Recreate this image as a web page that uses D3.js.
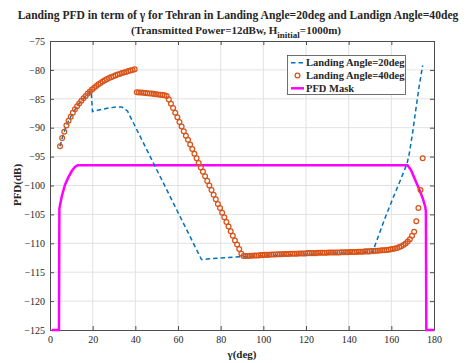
<!DOCTYPE html>
<html>
<head>
<meta charset="utf-8">
<script src="https://cdn.jsdelivr.net/npm/d3@7"></script>
<style>
  body { margin: 0; background: #fff; }
  text { font-family: "Liberation Serif", serif; }
</style>
</head>
<body>
<svg id="chart" width="473" height="363"></svg>
<script>
// ticks
let xTicks = [0, 20, 40, 60, 80, 100, 120, 140, 160, 180]
let yTicks = [-75, -80, -85, -90, -95, -100, -105, -110, -115, -120, -125]

// Landing Angle=40deg, one marker per degree starting at 4.7 deg
let gamma40Start = 4.7
let pfd40 = [
  -93.2, -91.8, -90.7, -89.6, -88.8, -88.1, -87.4, -86.8, -86.3, -85.8,
  -85.35, -84.9, -84.5, -84.1, -83.75, -83.4, -83.1, -82.8, -82.5, -82.25,
  -82.0, -81.8, -81.6, -81.4, -81.25, -81.1, -80.95, -80.8, -80.7, -80.55,
  -80.45, -80.35, -80.2, -80.1, -80.0, -79.9, -83.85, -83.9, -83.9, -83.95,
  -84.0, -84.05, -84.1, -84.1, -84.15, -84.2, -84.25, -84.3, -84.35, -84.4,
  -84.5, -85.1, -85.85, -86.6, -87.4, -88.2, -89.0, -89.8, -90.6, -91.4,
  -92.1, -92.9, -93.7, -94.5, -95.3, -96.1, -96.9, -97.6, -98.4, -99.2,
  -100.0, -100.8, -101.6, -102.4, -103.2, -103.9, -104.7, -105.5, -106.3, -107.1,
  -107.9, -108.7, -109.5, -110.2, -111.0, -111.8, -112.2, -112.2, -112.2, -112.15,
  -112.15, -112.1, -112.1, -112.1, -112.05, -112.05, -112.0, -112.0, -112.0, -111.95,
  -111.95, -111.95, -111.9, -111.9, -111.9, -111.85, -111.85, -111.85, -111.8, -111.8,
  -111.8, -111.8, -111.75, -111.75, -111.75, -111.75, -111.7, -111.7, -111.7, -111.7,
  -111.7, -111.65, -111.65, -111.65, -111.65, -111.65, -111.6, -111.6, -111.6, -111.6,
  -111.6, -111.6, -111.55, -111.55, -111.55, -111.55, -111.5, -111.5, -111.5, -111.5,
  -111.45, -111.45, -111.45, -111.4, -111.4, -111.4, -111.35, -111.35, -111.3, -111.3,
  -111.25, -111.2, -111.2, -111.15, -111.1, -111.05, -111.0, -110.9, -110.8, -110.65,
  -110.5, -110.3, -110.05, -109.7, -109.3, -108.7, -108.0, -106.2, -103.9, -100.8,
  -95.3
]

// Landing Angle=20deg (dashed line)
let gamma20 = [4.7, 5.7, 6.7, 7.7, 8.7, 10, 12, 14, 16, 18, 19.3, 19.9, 23.5, 27.4, 31.3, 33.7, 36.3,
  71, 89.3, 120, 151.2, 154, 157.4, 161.3, 164, 166, 167.5, 168.5, 170, 171.5, 173.1, 174.7]
let pfd20 = [-93.2, -91.8, -90.7, -89.6, -88.8, -87.9, -86.7, -85.6, -84.8, -84.1, -83.6, -87.2, -86.9, -86.6, -86.4, -86.4, -87.1,
  -112.8, -112.3, -111.9, -111.5, -108.7, -105.3, -101.7, -99.3, -97.5, -96.0, -94.3, -90.8, -86.8, -82.7, -79.2]

// PFD mask
let gammaMask = [0.8, 4.2, 4.4, 5.5, 7, 8.6, 10.2, 11.7, 13, 167.6, 169.2, 171.5, 173.1, 174.7, 175.9, 176.2, 176.4, 180]
let pfdMask = [-125, -125, -104, -101.9, -99.9, -98.6, -97.5, -96.8, -96.5, -96.5, -97.3, -99.3, -100.7, -102.2, -103.7, -104.5, -125, -125]

let legendLabels = ["Landing Angle=20deg", "Landing Angle=40deg", "PFD Mask"]

let blue = "#0072BD", orange = "#D95319", magenta = "#FF00FF"
let axisColor = "#4d4d4d", textColor = "#262626"

let svg = d3.select("#chart")
let plotLeft = 50, plotRight = 434, plotTop = 41, plotBottom = 330

let x = d3.scaleLinear().domain([0, 180]).range([plotLeft, plotRight])
let y = d3.scaleLinear().domain([-125, -75]).range([plotBottom, plotTop])

// grid
let grid = svg.append("g").attr("stroke", "#e2e2e2").attr("stroke-width", 1)
grid.selectAll(".gx").data(xTicks.slice(1, -1)).enter().append("line")
  .attr("x1", d => x(d)).attr("x2", d => x(d)).attr("y1", plotTop).attr("y2", plotBottom)
grid.selectAll(".gy").data(yTicks.slice(1, -1)).enter().append("line")
  .attr("y1", d => y(d)).attr("y2", d => y(d)).attr("x1", plotLeft).attr("x2", plotRight)

// axes
function styleAxis(g, showText) {
  g.select(".domain").attr("stroke", axisColor)
  g.selectAll(".tick line").attr("stroke", axisColor)
  g.selectAll(".tick text").attr("fill", textColor).attr("font-size", 10)
    .style("display", showText ? null : "none")
}

svg.append("g").attr("transform", `translate(0,${plotBottom})`)
  .call(d3.axisBottom(x).tickValues(xTicks).tickSizeInner(-4).tickSizeOuter(0).tickPadding(6))
  .call(g => styleAxis(g, true))
svg.append("g").attr("transform", `translate(0,${plotTop})`)
  .call(d3.axisTop(x).tickValues(xTicks).tickSizeInner(-4).tickSizeOuter(0))
  .call(g => styleAxis(g, false))
svg.append("g").attr("transform", `translate(${plotLeft},0)`)
  .call(d3.axisLeft(y).tickValues(yTicks).tickSizeInner(-4).tickSizeOuter(0).tickPadding(5))
  .call(g => styleAxis(g, true))
svg.append("g").attr("transform", `translate(${plotRight},0)`)
  .call(d3.axisRight(y).tickValues(yTicks).tickSizeInner(-4).tickSizeOuter(0))
  .call(g => styleAxis(g, false))

// data
let line = d3.line().x(d => x(d[0])).y(d => y(d[1]))

svg.append("path")
  .datum(gammaMask.map((g, i) => [g, pfdMask[i]]))
  .attr("d", line).attr("fill", "none")
  .attr("stroke", magenta).attr("stroke-width", 2.5)

svg.append("path")
  .datum(gamma20.map((g, i) => [g, pfd20[i]]))
  .attr("d", line).attr("fill", "none")
  .attr("stroke", blue).attr("stroke-width", 1.5)
  .attr("stroke-dasharray", "4.5,3")

svg.append("g").selectAll("circle")
  .data(pfd40.map((v, i) => [gamma40Start + i, v]))
  .enter().append("circle")
  .attr("cx", d => x(d[0])).attr("cy", d => y(d[1]))
  .attr("r", 2.4).attr("fill", "none")
  .attr("stroke", orange).attr("stroke-width", 1.25)

// titles
svg.append("text").attr("text-anchor", "middle").attr("font-weight", "bold")
  .attr("font-size", 11.6).attr("fill", textColor).attr("x", 238).attr("y", 18.5)
  .text("Landing PFD in term of \u03b3  for Tehran in Landing Angle=20deg and Landign Angle=40deg")

let title2 = svg.append("text").attr("text-anchor", "middle").attr("font-weight", "bold")
  .attr("font-size", 11).attr("fill", textColor).attr("x", 236).attr("y", 33.5)
title2.append("tspan").text("(Transmitted Power=12dBw, H")
title2.append("tspan").attr("font-size", 9).attr("dy", 4).text("initial")
title2.append("tspan").attr("dy", -4).text("=1000m)")

svg.append("text").attr("x", 242).attr("y", 358).attr("text-anchor", "middle")
  .attr("font-weight", "bold").attr("font-size", 11).attr("fill", textColor)
  .text("\u03b3(deg)")

svg.append("text").attr("transform", "translate(21,185) rotate(-90)").attr("text-anchor", "middle")
  .attr("font-weight", "bold").attr("font-size", 11).attr("fill", textColor)
  .text("PFD(dB)")

// legend
let legend = svg.append("g")
legend.append("rect").attr("x", 287.5).attr("y", 55.5).attr("width", 118).attr("height", 39)
  .attr("fill", "#fff").attr("stroke", axisColor).attr("stroke-width", 0.8)

let rows = legend.selectAll(".row").data(legendLabels).enter().append("g")
  .attr("transform", (d, i) => `translate(0,${62.7 + i * 12.8})`)
rows.append("text").attr("x", 306).attr("dy", "0.35em")
  .attr("font-size", 10.5).attr("font-weight", "bold").attr("fill", textColor).text(d => d)

legend.append("line").attr("x1", 291).attr("x2", 304).attr("y1", 62.7).attr("y2", 62.7)
  .attr("stroke", blue).attr("stroke-width", 1.5).attr("stroke-dasharray", "4.5,3")
legend.append("circle").attr("cx", 297.5).attr("cy", 75.5).attr("r", 2.4)
  .attr("fill", "none").attr("stroke", orange).attr("stroke-width", 1.25)
legend.append("line").attr("x1", 291).attr("x2", 304).attr("y1", 88.3).attr("y2", 88.3)
  .attr("stroke", magenta).attr("stroke-width", 2.5)
</script>
</body>
</html>
